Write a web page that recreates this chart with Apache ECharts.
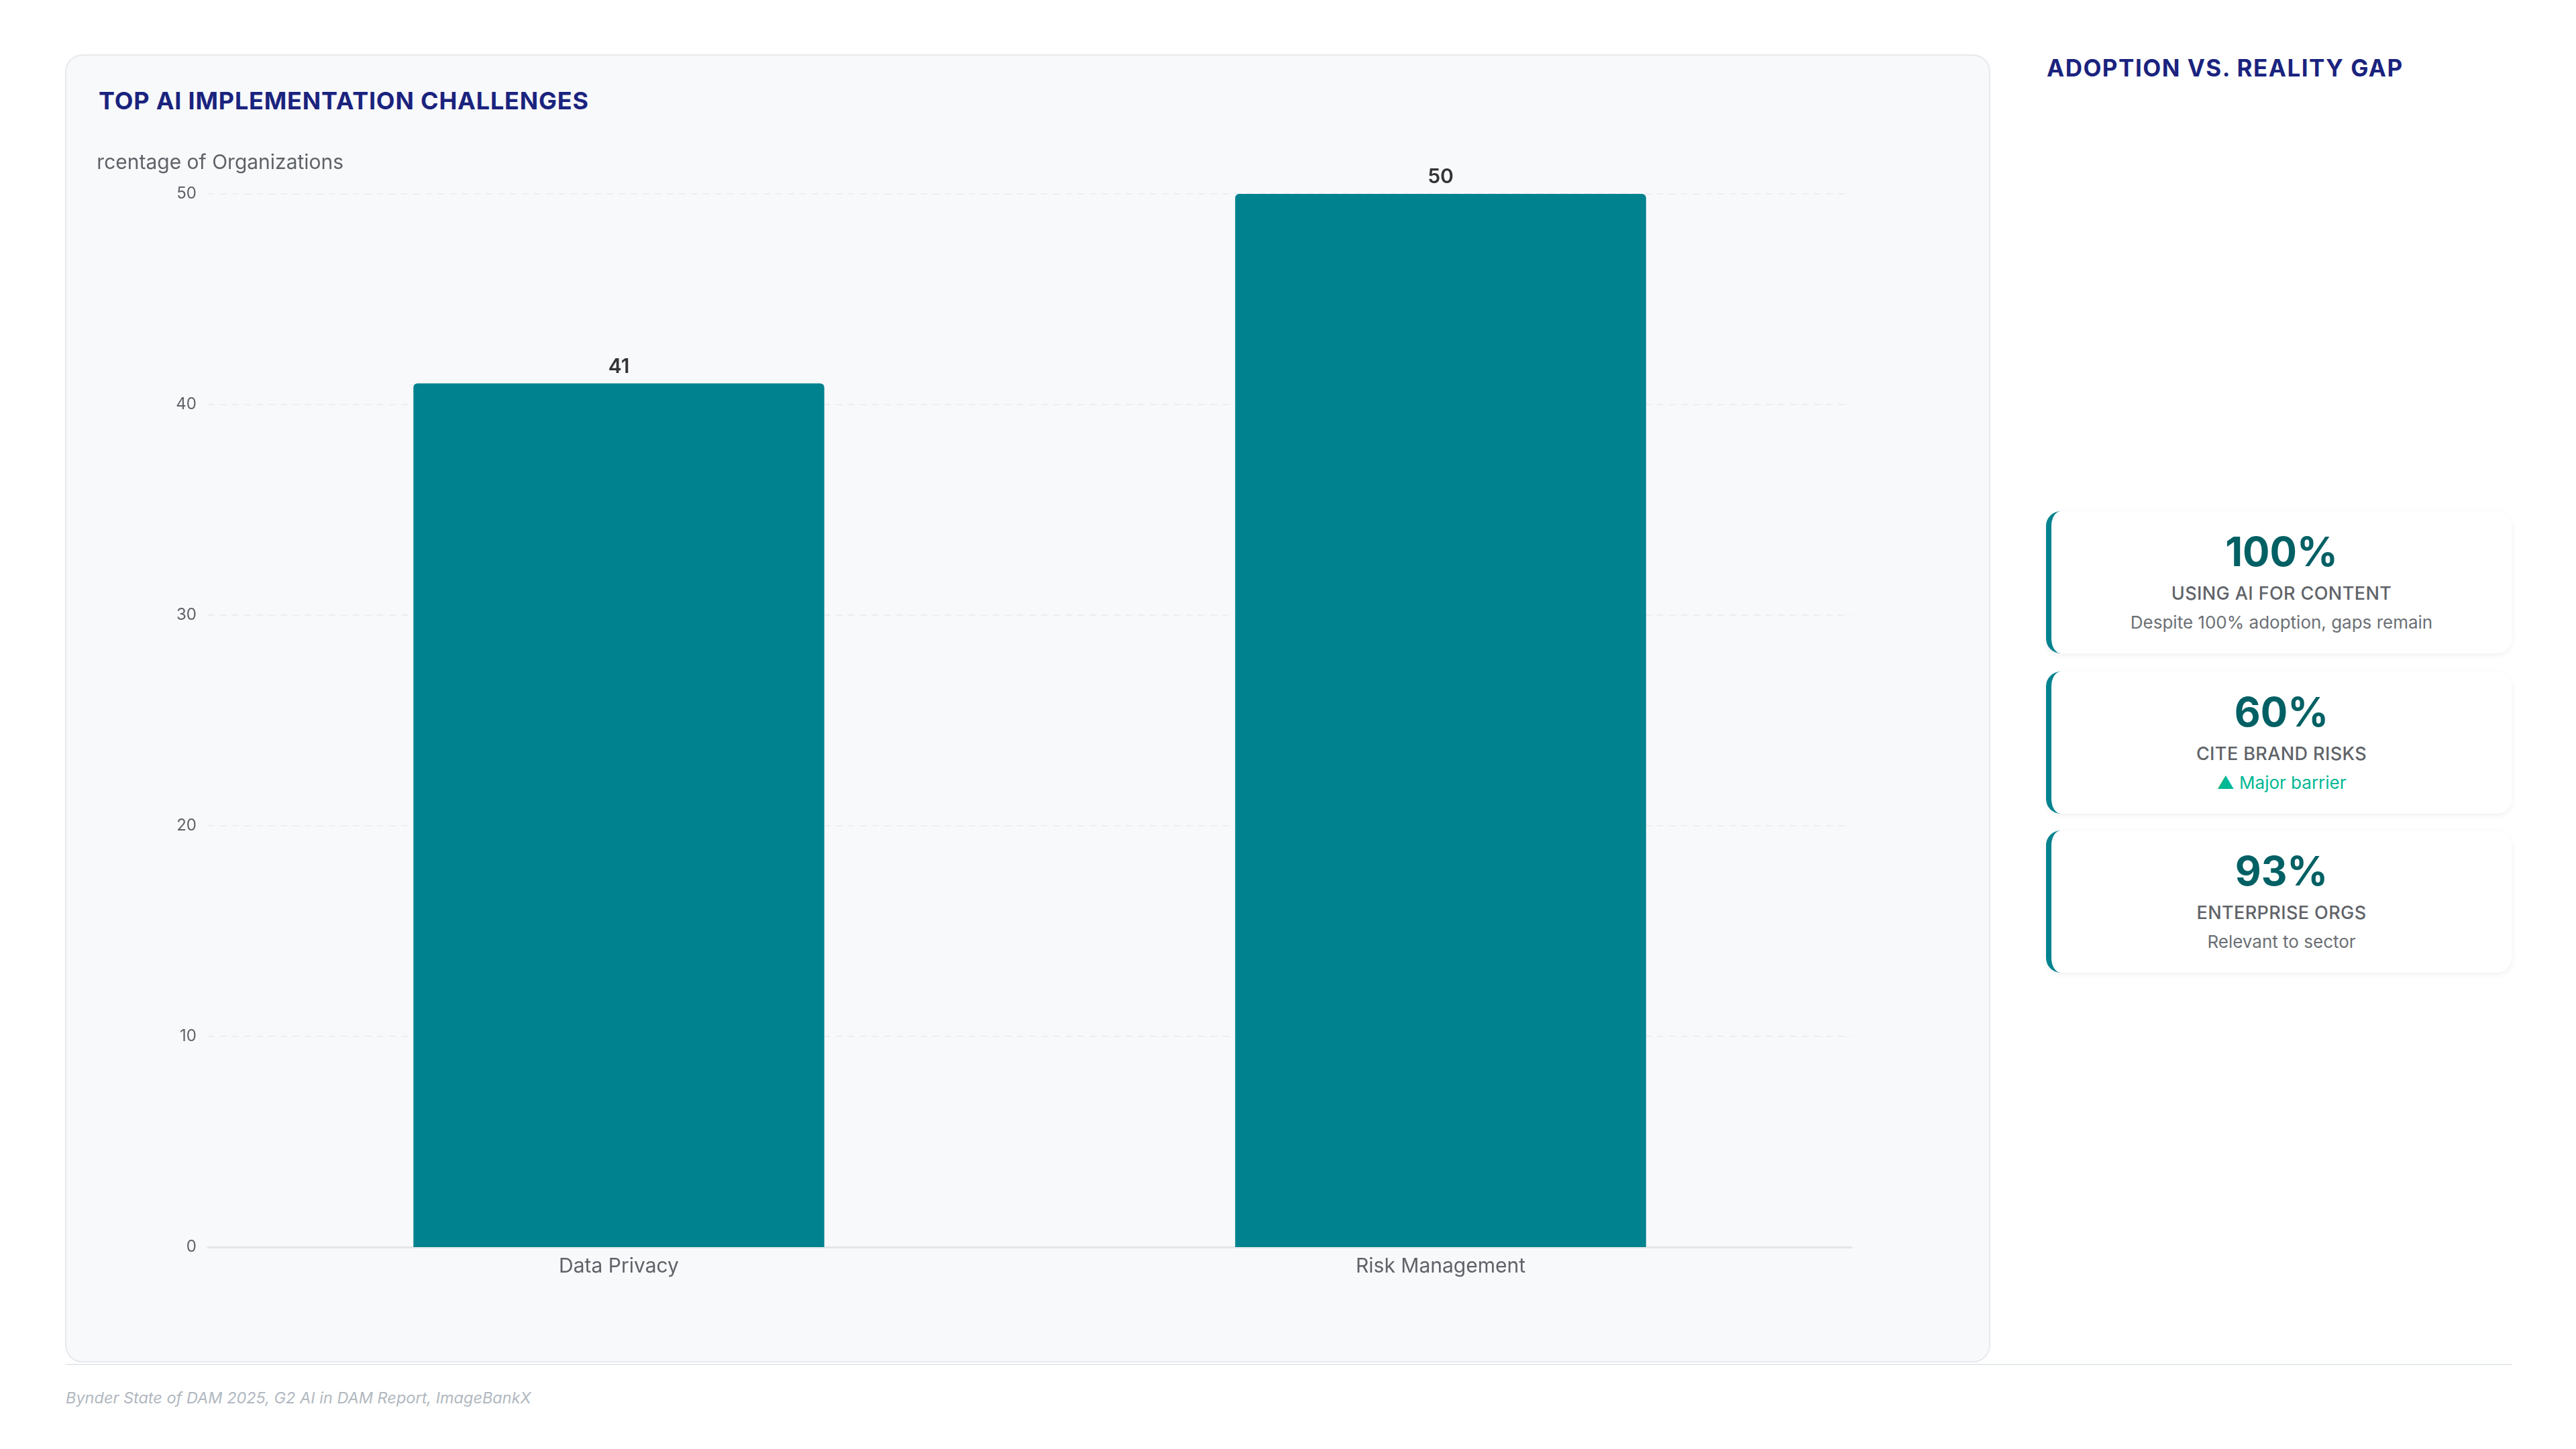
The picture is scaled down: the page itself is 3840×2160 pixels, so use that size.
<!DOCTYPE html>
<html>
<head>
<meta charset="utf-8">
<script src="https://cdn.jsdelivr.net/npm/echarts@6/dist/echarts.min.js"></script>
<style>
  html, body { margin:0; padding:0; background:#ffffff; }
  body { width:3840px; height:2160px; position:relative; overflow:hidden; font-family: Inter, "Noto Sans", sans-serif; }
  .card { position:absolute; left:97px; top:81px; width:2870px; height:1950px; background:#f8f9fb; border:2px solid #e6e9ed; border-radius:26px; box-sizing:border-box; }
  .title-left { position:absolute; left:147px; top:128px; font-size:36px; font-weight:700; color:#1a237e; letter-spacing:0.8px; line-height:44px; white-space:nowrap; }
  #chart { position:absolute; left:145px; top:200px; width:2776px; height:1790px; }
  .title-right { position:absolute; left:3051px; top:80px; font-size:35px; font-weight:700; color:#1a237e; letter-spacing:1.5px; line-height:42px; white-space:nowrap; }
  .stat { position:absolute; left:3050px; width:694px; height:212px; background:#ffffff; border-left:8px solid #00838f; border-radius:22px; box-sizing:border-box; box-shadow:0 3px 10px rgba(0,0,0,0.06); text-align:center; padding-top:28px; }
  .stat .v { font-size:60px; font-weight:700; color:#006064; line-height:64px; }
  .stat .l { font-size:27px; font-weight:500; color:#5f6368; letter-spacing:0.4px; line-height:36px; margin-top:13px; }
  .stat .s { font-size:26px; color:#6b6f75; line-height:34px; margin-top:8px; }
  .stat .s.up { color:#00b894; }
  .rule { position:absolute; left:98px; top:2033px; width:3646px; height:2px; background:#e6e9ed; }
  .foot { position:absolute; left:98px; top:2069px; font-size:23.5px; font-style:italic; color:#b1b8c0; white-space:nowrap; }
</style>
</head>
<body>
<div class="card"></div>
<div class="title-left">TOP AI IMPLEMENTATION CHALLENGES</div>
<div id="chart"></div>
<div class="title-right">ADOPTION VS. REALITY GAP</div>
<div id="stats"></div>
<div class="rule"></div>
<div class="foot">Bynder State of DAM 2025, G2 AI in DAM Report, ImageBankX</div>
<script>
const categories = ["Data Privacy", "Risk Management"];
const values = [41, 50];
const yAxisName = "Percentage of Organizations";

const statValues = ["100%", "60%", "93%"];
const statLabels = ["USING AI FOR CONTENT", "CITE BRAND RISKS", "ENTERPRISE ORGS"];
const statNotes = ["Despite 100% adoption, gaps remain", "▲ Major barrier", "Relevant to sector"];
const statNoteUp = [false, true, false];

const statTops = [762, 1001, 1238];
const statsEl = document.getElementById('stats');
statValues.forEach((v, i) => {
  const d = document.createElement('div');
  d.className = 'stat';
  d.style.top = statTops[i] + 'px';
  d.innerHTML = '<div class="v">' + v + '</div><div class="l">' + statLabels[i] +
    '</div><div class="s' + (statNoteUp[i] ? ' up' : '') + '">' + statNotes[i] + '</div>';
  statsEl.appendChild(d);
});

const chart = echarts.init(document.getElementById('chart'));
chart.setOption({
  animation: false,
  textStyle: { fontFamily: 'Inter, "Noto Sans", sans-serif' },
  grid: { left: 165, right: 161, top: 89, bottom: 131, containLabel: false, outerBoundsMode: 'none' },
  xAxis: {
    type: 'category',
    data: categories,
    axisLine: { show: true, lineStyle: { color: '#e3e6ea', width: 3 } },
    axisTick: { show: false },
    axisLabel: { color: '#5f6368', fontSize: 30, margin: 14 }
  },
  yAxis: {
    type: 'value',
    min: 0, max: 50, interval: 10,
    name: yAxisName,
    nameLocation: 'end',
    nameGap: 31,
    nameTextStyle: { color: '#5f6368', fontSize: 30, align: 'center' },
    axisLine: { show: false },
    axisTick: { show: false },
    axisLabel: { color: '#5f6368', fontSize: 24, margin: 17 },
    splitLine: { show: true, lineStyle: { color: '#eceef1', type: [10, 8], width: 2 } }
  },
  series: [{
    type: 'bar',
    data: values,
    barWidth: '50%',
    itemStyle: { color: '#00838f', borderRadius: [6, 6, 0, 0] },
    label: { show: true, position: 'top', distance: 10, color: '#333333', fontSize: 30, fontWeight: 600 }
  }]
});
</script>
</body>
</html>
